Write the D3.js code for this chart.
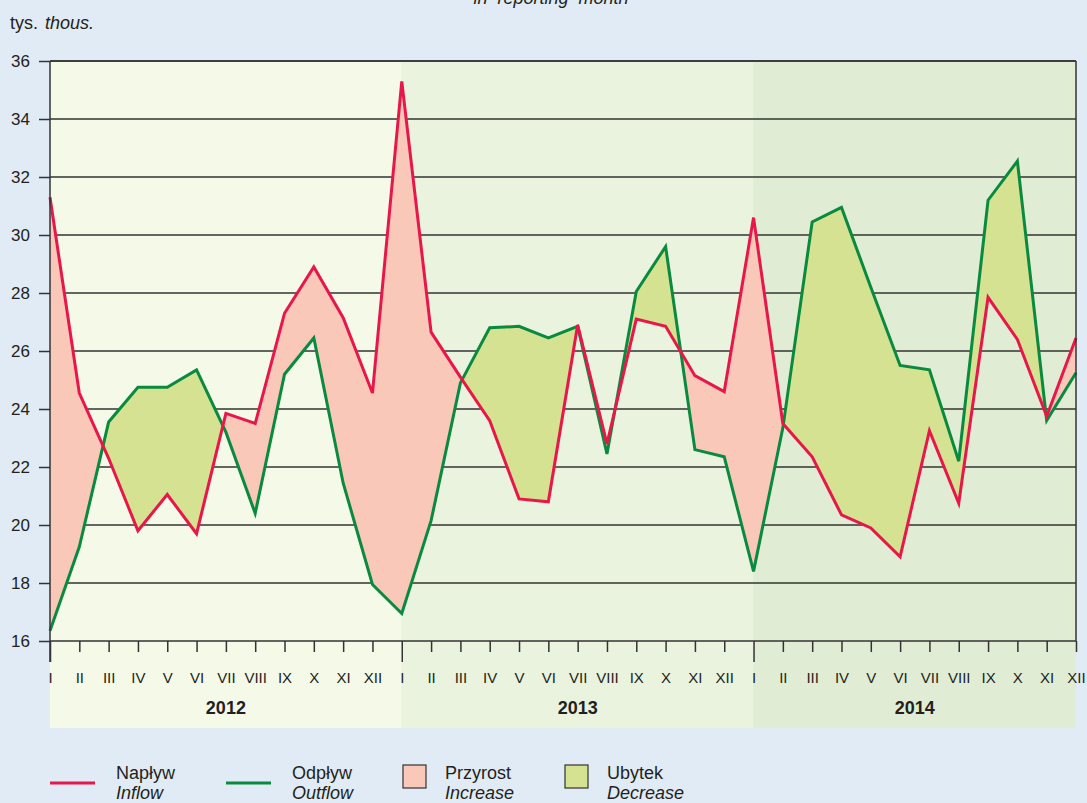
<!DOCTYPE html>
<html>
<head>
<meta charset="utf-8">
<script src="https://cdn.jsdelivr.net/npm/d3@7"></script>
<style>
  body { margin: 0; background: #e1ebf5; }
  svg { display: block; font-family: "Liberation Sans", Arial, sans-serif; }
</style>
</head>
<body>
<svg id="chart" width="1087" height="803"></svg>
<script>
// roman month labels and years
const months = ["I", "II", "III", "IV", "V", "VI", "VII", "VIII", "IX", "X", "XI", "XII"];
const years = ["2012", "2013", "2014"];
const yTicks = [16, 18, 20, 22, 24, 26, 28, 30, 32, 34, 36];

// thousands, monthly, I 2012 .. XII 2014
const inflow = [
  31.3, 24.55, 22.3, 19.8, 21.05, 19.7, 23.85, 23.5, 27.3, 28.9, 27.15, 24.55,
  35.3, 26.65, 25.1, 23.6, 20.9, 20.8, 26.9, 22.8, 27.1, 26.85, 25.15, 24.6,
  30.6, 23.5, 22.35, 20.35, 19.9, 18.9, 23.25, 20.75, 27.85, 26.4, 23.75, 26.45
];
const outflow = [
  16.35, 19.25, 23.55, 24.75, 24.75, 25.35, 23.2, 20.4, 25.2, 26.45, 21.45, 17.95,
  16.95, 20.15, 24.9, 26.8, 26.85, 26.45, 26.85, 22.45, 28.05, 29.6, 22.6, 22.35,
  18.4, 23.35, 30.45, 30.95, 28.2, 25.5, 25.35, 22.2, 31.2, 32.55, 23.6, 25.25
];

const colors = {
  inflow: "#e8174a",
  outflow: "#0a8a3f",
  increase: "#f9c8b8",
  decrease: "#d4e291",
  bands: ["#f4f9e8", "#e9f3de", "#e0edd4"],
  grid: "#333333"
};

const svg = d3.select("#chart");
const plotLeft = 50, plotRight = 1076, plotTop = 61, plotBottom = 641;

const x = d3.scaleLinear().domain([0, inflow.length - 1]).range([plotLeft, plotRight]);
const y = d3.scaleLinear().domain([16, 36]).range([plotBottom, plotTop]);

const data = inflow.map((v, i) => ({i: i, inflow: v, outflow: outflow[i]}));

// year bands
svg.append("g").selectAll("rect")
  .data(years)
  .enter().append("rect")
  .attr("x", (d, k) => x(k * 12))
  .attr("y", plotTop)
  .attr("width", (d, k) => Math.min(x((k + 1) * 12), plotRight) - x(k * 12))
  .attr("height", 728 - plotTop)
  .attr("fill", (d, k) => colors.bands[k]);

// gridlines
svg.append("g").selectAll("line")
  .data(yTicks)
  .enter().append("line")
  .attr("x1", plotLeft).attr("x2", plotRight)
  .attr("y1", d => y(d)).attr("y2", d => y(d))
  .attr("stroke", colors.grid)
  .attr("stroke-width", 1.5);

// difference fills
const defs = svg.append("defs");
defs.append("clipPath").attr("id", "clip-above")
  .append("path")
  .attr("d", d3.area().x(d => x(d.i)).y0(0).y1(d => y(d.outflow))(data));
defs.append("clipPath").attr("id", "clip-below")
  .append("path")
  .attr("d", d3.area().x(d => x(d.i)).y0(plotBottom).y1(d => y(d.outflow))(data));

const between = d3.area()
  .x(d => x(d.i))
  .y0(d => y(d.outflow))
  .y1(d => y(d.inflow));

svg.append("path")
  .attr("clip-path", "url(#clip-above)")
  .attr("d", between(data))
  .attr("fill", colors.increase);
svg.append("path")
  .attr("clip-path", "url(#clip-below)")
  .attr("d", between(data))
  .attr("fill", colors.decrease);

// lines
const line = key => d3.line().x(d => x(d.i)).y(d => y(d[key]));
svg.append("path")
  .attr("d", line("outflow")(data))
  .attr("fill", "none")
  .attr("stroke", colors.outflow)
  .attr("stroke-width", 3)
  .attr("stroke-linejoin", "miter");
svg.append("path")
  .attr("d", line("inflow")(data))
  .attr("fill", "none")
  .attr("stroke", colors.inflow)
  .attr("stroke-width", 3)
  .attr("stroke-linejoin", "miter");

// frame: top and right
svg.append("line")
  .attr("x1", plotLeft).attr("x2", plotRight).attr("y1", plotTop).attr("y2", plotTop)
  .attr("stroke", colors.grid).attr("stroke-width", 1.5);
svg.append("line")
  .attr("x1", plotRight).attr("x2", plotRight).attr("y1", plotTop).attr("y2", plotBottom)
  .attr("stroke", colors.grid).attr("stroke-width", 1.5);

// y axis
const yAxis = svg.append("g")
  .attr("transform", `translate(${plotLeft},0)`)
  .call(d3.axisLeft(y).tickValues(yTicks).tickSize(11).tickPadding(9).tickSizeOuter(0));
yAxis.select(".domain").remove();
yAxis.append("line")
  .attr("x1", 0).attr("x2", 0).attr("y1", plotTop).attr("y2", 662)
  .attr("stroke", colors.grid).attr("stroke-width", 1.5);
yAxis.selectAll(".tick line").attr("stroke", colors.grid).attr("stroke-width", 1.5);
yAxis.selectAll(".tick text")
  .attr("font-size", 17)
  .attr("font-family", "Liberation Sans, Arial, sans-serif")
  .attr("fill", "#231f20");

// x axis
const xAxis = svg.append("g")
  .attr("transform", `translate(0,${plotBottom})`)
  .call(d3.axisBottom(x).tickValues(d3.range(inflow.length)).tickSize(11).tickSizeOuter(0)
    .tickFormat(i => months[i % 12]));
xAxis.select(".domain").remove();
xAxis.selectAll(".tick line")
  .attr("y2", i => i % 12 === 0 ? 21 : 11)
  .attr("stroke", colors.grid).attr("stroke-width", 1.5);
xAxis.selectAll(".tick text")
  .attr("y", 42).attr("dy", 0)
  .attr("font-size", 15)
  .attr("font-family", "Liberation Sans, Arial, sans-serif")
  .attr("fill", "#231f20");

// year labels
svg.append("g").selectAll("text")
  .data(years)
  .enter().append("text")
  .attr("x", (d, k) => (x(k * 12) + Math.min(x((k + 1) * 12), plotRight)) / 2)
  .attr("y", 714)
  .attr("text-anchor", "middle")
  .attr("font-size", 18)
  .attr("font-weight", "bold")
  .attr("fill", "#231f20")
  .text(d => d);

// unit + cut title
svg.append("text").attr("x", 10).attr("y", 29).attr("font-size", 18).attr("fill", "#231f20")
  .text("tys.")
  .append("tspan").attr("dx", 7).attr("font-style", "italic").text("thous.");
svg.append("text").attr("x", 551).attr("y", 4).attr("text-anchor", "middle")
  .attr("font-size", 18).attr("font-style", "italic").attr("fill", "#231f20")
  .style("white-space", "pre")
  .text("in  reporting  month");

// legend
const legend = [
  {pl: "Napływ", en: "Inflow", type: "line", color: colors.inflow, x: 50},
  {pl: "Odpływ", en: "Outflow", type: "line", color: colors.outflow, x: 226},
  {pl: "Przyrost", en: "Increase", type: "box", color: colors.increase, x: 403},
  {pl: "Ubytek", en: "Decrease", type: "box", color: colors.decrease, x: 565}
];
const lg = svg.append("g").selectAll("g").data(legend).enter().append("g");
lg.filter(d => d.type === "line").append("line")
  .attr("x1", d => d.x).attr("x2", d => d.x + 45)
  .attr("y1", 783).attr("y2", 783)
  .attr("stroke", d => d.color).attr("stroke-width", 3);
lg.filter(d => d.type === "box").append("rect")
  .attr("x", d => d.x).attr("y", 765).attr("width", 23).attr("height", 23)
  .attr("fill", d => d.color).attr("stroke", "#333").attr("stroke-width", 1.2);
lg.append("text")
  .attr("x", d => d.type === "line" ? d.x + 66 : d.x + 42)
  .attr("y", 779).attr("font-size", 18).attr("fill", "#231f20")
  .text(d => d.pl);
lg.append("text")
  .attr("x", d => d.type === "line" ? d.x + 66 : d.x + 42)
  .attr("y", 799).attr("font-size", 18).attr("font-style", "italic").attr("fill", "#231f20")
  .text(d => d.en);
</script>
</body>
</html>
